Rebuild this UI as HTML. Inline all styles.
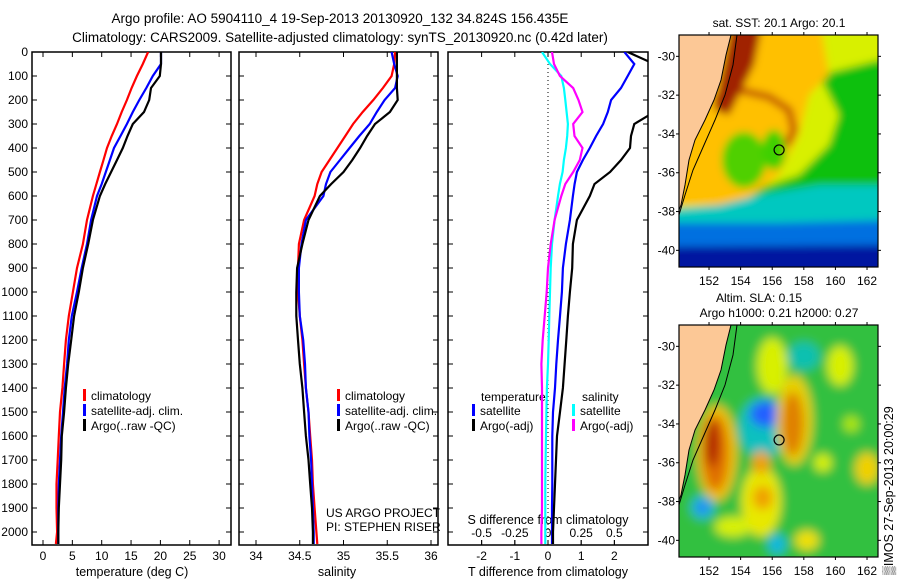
<!DOCTYPE html>
<html><head><meta charset="utf-8">
<style>
html,body{margin:0;padding:0;background:#fff;}
svg{display:block;font-family:"Liberation Sans",sans-serif;}
</style></head>
<body>
<svg id="fig" width="900" height="580" viewBox="0 0 900 580" xmlns="http://www.w3.org/2000/svg">
<defs>
<clipPath id="c1"><rect x="32" y="52" width="199" height="493"/></clipPath>
<clipPath id="c2"><rect x="239" y="52" width="199" height="493"/></clipPath>
<clipPath id="c3"><rect x="448" y="52" width="200" height="493"/></clipPath>
<clipPath id="cm"><rect x="0" y="0" width="199" height="232"/></clipPath>
<filter id="bl" x="-50%" y="-50%" width="200%" height="200%"><feGaussianBlur stdDeviation="4"/></filter>
<filter id="bl2" x="-50%" y="-50%" width="200%" height="200%"><feGaussianBlur stdDeviation="5"/></filter>
</defs>
<text x="340" y="23" font-size="13.5" text-anchor="middle">Argo profile: AO 5904110_4 19-Sep-2013 20130920_132 34.824S 156.435E</text>
<text x="340" y="42" font-size="13.5" text-anchor="middle">Climatology: CARS2009. Satellite-adjusted climatology: synTS_20130920.nc (0.42d later)</text>
<g id="panels"></g>
<g id="maps"></g>
<text transform="translate(893,575) rotate(-90)" font-size="12.5">▒IMOS 27-Sep-2013 20:00:29</text>
</svg>
<script>
const depths=[0,50,100,150,200,250,300,350,400,450,500,550,600,700,800,900,1000,1100,1200,1300,1400,1500,1600,1700,1800,1900,2000,2050];
const tempClim=[17.9,17.0,16.0,15.1,14.3,13.4,12.6,11.7,10.9,10.3,9.7,9.1,8.5,7.5,6.8,5.8,5.1,4.4,3.9,3.6,3.3,2.9,2.7,2.5,2.3,2.3,2.4,2.2];
const tempSat=[20.1,20.1,18.7,17.6,16.4,15.3,14.3,13.2,12.1,11.4,10.7,10.0,9.2,8.2,7.5,6.6,5.8,4.9,4.4,4.1,3.7,3.4,3.1,2.9,2.7,2.6,2.6,2.6];
const tempArgo=[20.1,20.1,19.9,18.4,18.1,17.2,15.3,14.4,13.6,12.6,11.6,10.6,9.7,8.5,7.7,6.8,6.1,5.3,4.8,4.3,3.9,3.6,3.2,3.1,2.9,2.7,2.6,2.6];
const salClim=[35.59,35.58,35.55,35.45,35.34,35.22,35.11,35.02,34.93,34.84,34.75,34.70,34.67,34.55,34.49,34.48,34.48,34.50,34.53,34.55,34.57,34.60,34.62,34.64,34.65,34.67,34.69,34.70];
const salSat=[35.55,35.58,35.62,35.59,35.47,35.38,35.30,35.18,35.07,34.96,34.85,34.80,34.77,34.57,34.52,34.49,34.49,34.50,34.54,34.56,34.57,34.60,34.61,34.63,34.64,34.65,34.66,34.66];
const salArgo=[35.61,35.61,35.61,35.61,35.62,35.53,35.36,35.27,35.19,35.10,35.00,34.86,34.73,34.60,34.53,34.47,34.46,34.46,34.48,34.50,34.53,34.55,34.57,34.60,34.62,34.64,34.65,34.65];
const tDiffSat=[2.3,2.6,2.4,2.2,1.9,1.8,1.66,1.45,1.26,1.05,0.87,0.8,0.75,0.66,0.54,0.45,0.42,0.36,0.3,0.25,0.21,0.15,0.13,0.13,0.13,0.12,0.12,0.12];
const tDiffArgo=[2.4,3.2,3.2,3.2,3.2,3.2,2.6,2.5,2.47,2.2,1.87,1.4,1.26,0.87,0.75,0.73,0.66,0.6,0.55,0.5,0.45,0.36,0.27,0.24,0.21,0.18,0.15,0.15];
const sDiffSat=[-0.045,0.015,0.1,0.12,0.13,0.14,0.15,0.145,0.135,0.12,0.11,0.09,0.075,0.05,0.03,0.02,0.015,0.01,0.005,0,-0.008,-0.012,-0.015,-0.018,-0.02,-0.02,-0.02,-0.02];
const sDiffArgo=[0.03,0.045,0.09,0.19,0.23,0.26,0.19,0.2,0.26,0.24,0.19,0.13,0.1,0.05,0.02,0,-0.01,-0.025,-0.04,-0.05,-0.045,-0.045,-0.045,-0.045,-0.045,-0.045,-0.05,-0.05];
const depthTicks=[0,100,200,300,400,500,600,700,800,900,1000,1100,1200,1300,1400,1500,1600,1700,1800,1900,2000];
const tempTicks=[0,5,10,15,20,25,30];
const salTicks=[34,34.5,35,35.5,36];
const tDiffTicks=[-2,-1,0,1,2];
const sDiffTicks=[-0.5,-0.25,0,0.25,0.5];
const sDiffTickLabels=["-0.5","-0.25","0","0.25","0.5"];
const lonTicks=[152,154,156,158,160,162];
const latTicks=[-30,-32,-34,-36,-38,-40];
const argoLon=156.435, argoLat=-34.824;

const NS="http://www.w3.org/2000/svg";
function mk(tag,attrs,parent){const e=document.createElementNS(NS,tag);for(const k in attrs)e.setAttribute(k,attrs[k]);parent.appendChild(e);return e;}
const yD=d=>52+d*0.24;
const xT=t=>43+t*5.87;
const xS=s=>256+(s-34)*87.5;
const xTd=t=>548+t*33.2;
const xSd=s=>548+s*132.7;
const P=document.getElementById('panels');

function frame(x0,w,name){
  const g=mk('g',{},P);
  
  
  mk('rect',{x:x0,y:52,width:w,height:493,fill:'none',stroke:'#000','stroke-width':1.5},g);
  depthTicks.forEach(d=>{const y=yD(d);
    mk('line',{x1:x0,y1:y,x2:x0+5,y2:y,stroke:'#000'},g);
    mk('line',{x1:x0+w-5,y1:y,x2:x0+w,y2:y,stroke:'#000'},g);});
  return g;
}
function series(vals,xf,color,clip,name){
  const pts=vals.map((v,i)=>xf(v).toFixed(1)+','+yD(depths[i]).toFixed(1)).join(' ');
  const pl=mk('polyline',{points:pts,fill:'none',stroke:color,'stroke-width':2.2,'clip-path':'url(#'+clip+')'},P);
  
  
}
function xticks(g,vals,xf,labels,ly){
  vals.forEach((v,i)=>{const x=xf(v);
    mk('line',{x1:x,y1:52,x2:x,y2:57,stroke:'#000'},g);
    mk('line',{x1:x,y1:540,x2:x,y2:545,stroke:'#000'},g);
    const t=mk('text',{x:x,y:ly,'font-size':12,'text-anchor':'middle'},g);t.textContent=labels[i];
    
    });
}
function legend(g,x,y,items){
  items.forEach((it,i)=>{
    mk('rect',{x:x,y:y+i*15-9,width:3,height:12,fill:it[0]},g);
    const t=mk('text',{x:x+8,y:y+i*15+2,'font-size':12},g);t.textContent=it[1];
    
    });
}
// Panel 1
const g1=frame(32,199,'temperature-panel');
depthTicks.forEach(d=>{const t=mk('text',{x:28,y:yD(d)+4,'font-size':12,'text-anchor':'end'},g1);t.textContent=d;
  
  });
xticks(g1,tempTicks,xT,tempTicks.map(String),560);
let t1=mk('text',{x:132,y:576,'font-size':12.5,'text-anchor':'middle'},g1);t1.textContent='temperature (deg C)';


series(tempClim,xT,'#ff0000','c1','temp-climatology-line');
series(tempSat,xT,'#0000ff','c1','temp-satellite-line');
series(tempArgo,xT,'#000000','c1','temp-argo-line');
legend(g1,83,398,[['#f00','climatology'],['#00f','satellite-adj. clim.'],['#000','Argo(..raw -QC)']]);
// Panel 2
const g2=frame(239,199,'salinity-panel');
xticks(g2,salTicks,xS,salTicks.map(String),560);
let t2=mk('text',{x:337,y:576,'font-size':12.5,'text-anchor':'middle'},g2);t2.textContent='salinity';


series(salClim,xS,'#ff0000','c2','sal-climatology-line');
series(salSat,xS,'#0000ff','c2','sal-satellite-line');
series(salArgo,xS,'#000000','c2','sal-argo-line');
legend(g2,337,398,[['#f00','climatology'],['#00f','satellite-adj. clim.'],['#000','Argo(..raw -QC)']]);
let pr=mk('text',{x:326,y:517,'font-size':12},g2);pr.textContent='US ARGO PROJECT';


let pi=mk('text',{x:326,y:531,'font-size':12},g2);pi.textContent='PI: STEPHEN RISER';


// Panel 3
const g3=frame(448,200,'difference-panel');
mk('line',{x1:548,y1:52,x2:548,y2:545,stroke:'#000','stroke-dasharray':'1,3'},g3);
xticks(g3,tDiffTicks,xTd,tDiffTicks.map(String),560);
sDiffTicks.forEach((v,i)=>{const x=xSd(v);mk('line',{x1:x,y1:540,x2:x,y2:545,stroke:'#000'},g3);
  const t=mk('text',{x:x,y:537,'font-size':12,'text-anchor':'middle'},g3);t.textContent=sDiffTickLabels[i];
  
  });
let t3=mk('text',{x:548,y:576,'font-size':12.5,'text-anchor':'middle'},g3);t3.textContent='T difference from climatology';


let t4=mk('text',{x:548,y:524,'font-size':12.5,'text-anchor':'middle'},g3);t4.textContent='S difference from climatology';


series(sDiffSat,xSd,'#00ffff','c3','sdiff-satellite-line');
series(sDiffArgo,xSd,'#ff00ff','c3','sdiff-argo-line');
series(tDiffSat,xTd,'#0000ff','c3','tdiff-satellite-line');
series(tDiffArgo,xTd,'#000000','c3','tdiff-argo-line');
let lt=mk('text',{x:481,y:401,'font-size':12},g3);lt.textContent='temperature';


let ls=mk('text',{x:582,y:401,'font-size':12},g3);ls.textContent='salinity';


legend(g3,472,413,[['#00f','satellite'],['#000','Argo(-adj)']]);
legend(g3,572,413,[['#0ff','satellite'],['#f0f','Argo(-adj)']]);

// Maps
const M=document.getElementById('maps');
const mx=lon=>(lon-150.1)*15.8;
const my=lat=>(-28.9-lat)*19.4;
function map(y0,name,draw,titles){
  const g=mk('g',{transform:'translate(679,'+y0+')'},M);
  
  
  const inner=mk('g',{'clip-path':'url(#cm)'},g);
  draw(inner);
  const land=mk('polygon',{points:'0,0 52,0 47,20 42,45 35,65 26,85 16,105 10,125 6,150 2,170 0,175',fill:'#fcc896'},inner);
  
  
  mk('polyline',{points:'58,0 54,30 46,60 36,85 25,110 14,135 6,160 0,180',fill:'none',stroke:'#000','stroke-width':1},inner);
  mk('polyline',{points:'52,0 47,20 42,45 35,65 26,85 16,105 10,125 6,150 2,170 0,175',fill:'none',stroke:'#000','stroke-width':1},inner);
  mk('rect',{x:0,y:0,width:199,height:232,fill:'none',stroke:'#000','stroke-width':1.2},g);
  lonTicks.forEach(l=>{const x=mx(l);mk('line',{x1:x,y1:-3,x2:x,y2:0,stroke:'#000'},g);mk('line',{x1:x,y1:232,x2:x,y2:235,stroke:'#000'},g);
    const t=mk('text',{x:x,y:250,'font-size':12,'text-anchor':'middle'},g);t.textContent=l;
    
    });
  latTicks.forEach(l=>{const y=my(l);mk('line',{x1:199,y1:y,x2:202,y2:y,stroke:'#000'},g);mk('line',{x1:-3,y1:y,x2:0,y2:y,stroke:'#000'},g);
    const t=mk('text',{x:-4,y:y+4,'font-size':12,'text-anchor':'end'},g);t.textContent=l;
    
    });
  const c=mk('circle',{cx:mx(argoLon),cy:my(argoLat),r:5,fill:'none',stroke:'#000','stroke-width':1.2},g);
  
  
  titles.forEach((s,i)=>{const t=mk('text',{x:titles.length>1&&i==0?80:100,y:-8-(titles.length-1-i)*15,'font-size':12,'text-anchor':'middle'},g);t.textContent=s;
    
    });
  return g;
}
map(35,'sst-map',g=>{
  const b=mk('g',{filter:'url(#bl)'},g);
  mk('rect',{x:-20,y:-20,width:240,height:280,fill:'#d8f000'},b);
  mk('polygon',{points:'140,40 220,20 220,230 60,230 60,160 120,140 150,110 160,80',fill:'#10c010'},b);
  mk('polygon',{points:'-20,-20 140,-20 150,40 130,60 120,100 100,140 60,170 -20,170',fill:'#ffc000'},b);
  mk('ellipse',{cx:65,cy:125,rx:22,ry:28,fill:'#50d000'},b);
  mk('ellipse',{cx:95,cy:115,rx:12,ry:20,fill:'#40d000'},b);
  mk('polyline',{points:'35,65 60,55 90,62 110,75 115,95 108,110',fill:'none',stroke:'#c05000','stroke-width':7},b);
  mk('polygon',{points:'55,-20 85,-20 75,30 50,80 35,75',fill:'#a02000'},b);
  mk('polygon',{points:'-20,175 40,170 80,160 140,150 220,150 220,260 -20,260',fill:'#00c8c0'},b);
  mk('polygon',{points:'-20,188 100,188 220,185 220,260 -20,260',fill:'#0070e0'},b);
  mk('polygon',{points:'-20,212 220,210 220,260 -20,260',fill:'#0018a0'},b);
},['sat. SST: 20.1 Argo: 20.1']);
map(325,'sla-map',g=>{
  const b=mk('g',{filter:'url(#bl2)'},g);
  mk('rect',{x:-20,y:-20,width:240,height:280,fill:'#30c040'},b);
  [[mx(156),my(-31),15,28,'#d8f000'],[mx(160.3),my(-31),13,20,'#d8f000'],[mx(158),my(-30.5),16,14,'#10c0b0'],
   [mx(152.5),my(-35.5),20,48,'#f0c000'],[mx(152.4),my(-35.5),13,38,'#e07000'],[mx(152.2),my(-35),7,24,'#b02000'],
   [mx(155.4),my(-34.2),24,30,'#10c0c0'],[mx(155.6),my(-33.5),16,13,'#2060ff'],
   [mx(157.4),my(-33.8),18,45,'#e8d000'],[mx(157.3),my(-34),11,32,'#e08000'],
   [mx(155.3),my(-38),20,35,'#e8e800'],[mx(155.3),my(-36),9,12,'#f0a000'],[mx(155.4),my(-37.8),10,12,'#f0a000'],
   [mx(151.6),my(-38.3),12,12,'#20b8d0'],[mx(151.6),my(-38.3),6,6,'#2080ff'],[mx(156.3),my(-40.2),9,10,'#10b8e0'],[mx(162),my(-36.3),12,16,'#f0d000'],
   [mx(158.2),my(-40),12,10,'#f0e000'],[mx(153.5),my(-39.3),18,10,'#d8f000'],[mx(159.2),my(-36),9,9,'#d8f000'],[mx(161,),my(-34),8,8,'#b0e800']
  ].forEach(e=>mk('ellipse',{cx:e[0],cy:e[1],rx:e[2],ry:e[3],fill:e[4]},b));
},['Altim. SLA: 0.15','Argo h1000: 0.21 h2000: 0.27']);
</script>
</body></html>
